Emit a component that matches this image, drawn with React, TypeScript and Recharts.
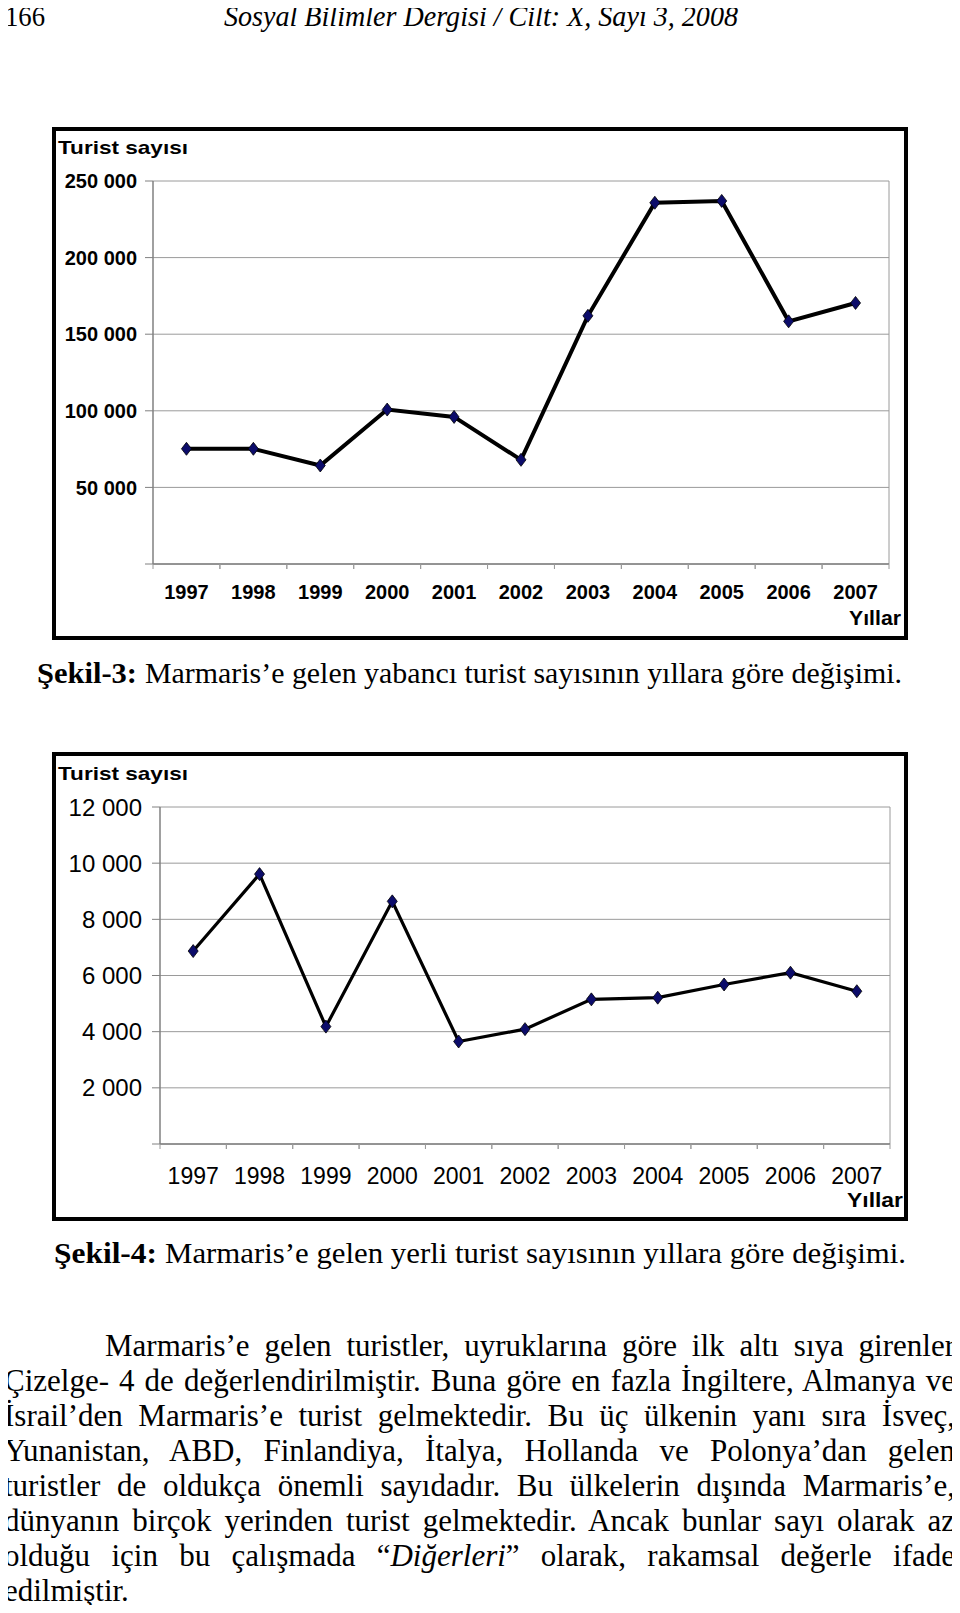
import React from 'react';
import { LineChart, Line, XAxis, YAxis, CartesianGrid } from 'recharts';

const years = ['1997', '1998', '1999', '2000', '2001', '2002', '2003', '2004', '2005', '2006', '2007'];
const foreignTourists = [75200, 75200, 64300, 100800, 96000, 68000, 162000, 235800, 237000, 158400, 170400];
const domesticTourists = [6870, 9610, 4180, 8640, 3650, 4090, 5150, 5210, 5680, 6100, 5440];
const foreignTicks = [0, 50000, 100000, 150000, 200000, 250000];
const domesticTicks = [0, 2000, 4000, 6000, 8000, 10000, 12000];

const paragraphLines = [
  'Marmaris’e gelen turistler, uyruklarına göre ilk altı sıya girenler',
  'Çizelge- 4 de değerlendirilmiştir. Buna göre en fazla İngiltere, Almanya ve',
  'İsrail’den Marmaris’e turist gelmektedir. Bu üç ülkenin yanı sıra İsveç,',
  'Yunanistan, ABD, Finlandiya, İtalya, Hollanda ve Polonya’dan gelen',
  'turistler de oldukça önemli sayıdadır. Bu ülkelerin dışında Marmaris’e,',
  'dünyanın birçok yerinden turist gelmektedir. Ancak bunlar sayı olarak az',
];

const SANS = '"Liberation Sans", Arial, sans-serif';
const SERIF = '"Liberation Serif", "Times New Roman", serif';
const GRID = '#9a9a9a';
const XH = 40;

const fmt = (n: number) => (n === 0 ? '' : String(n).replace(/\B(?=(\d{3})+(?!\d))/g, ' '));

const Diamond = (props: any) => {
  const { cx, cy, index } = props;
  if (cx == null || cy == null) return null;
  return (
    <polygon
      key={index}
      points={`${cx},${cy - 6.5} ${cx + 5},${cy} ${cx},${cy + 6.5} ${cx - 5},${cy}`}
      fill="#0c0c6a"
      stroke="#000"
      strokeWidth={0.8}
    />
  );
};

function TouristChart({ values, ticks, top, height, plot, yFont, xFont, yMargin, xGap, strokeWidth }: any) {
  const data = years.map((year, i) => ({ year, value: values[i] }));
  const margin = {
    top: plot.top - top,
    left: 0,
    right: 960 - plot.right,
    bottom: top + height - plot.bottom - XH,
  };
  const bw = (plot.right - plot.left) / years.length;
  const axisY = plot.bottom - top;

  const XTick = (p: any) => {
    const { x, payload } = p;
    return (
      <g>
        <line x1={x - bw / 2} x2={x - bw / 2} y1={axisY} y2={axisY + 5} stroke={GRID} />
        <line x1={x + bw / 2} x2={x + bw / 2} y1={axisY} y2={axisY + 5} stroke={GRID} />
        <text x={x} y={axisY + xGap} dy="0.71em" textAnchor="middle" fill="#000" style={{ fontFamily: SANS, ...xFont }}>
          {payload.value}
        </text>
      </g>
    );
  };

  return (
    <div style={{ position: 'absolute', left: 0, top, width: 960, height }}>
      <LineChart width={960} height={height} data={data} margin={margin}>
        <CartesianGrid
          stroke={GRID}
          strokeWidth={1}
          verticalCoordinatesGenerator={(g: any) => [g.offset.left + g.offset.width]}
        />
        <XAxis
          dataKey="year"
          scale="band"
          height={XH}
          axisLine={{ stroke: '#808080', strokeWidth: 1.5 }}
          tickLine={false}
          tick={<XTick />}
          interval={0}
        />
        <YAxis
          width={plot.left}
          domain={[ticks[0], ticks[ticks.length - 1]]}
          ticks={ticks}
          interval={0}
          tickFormatter={fmt}
          axisLine={{ stroke: '#808080', strokeWidth: 1.5 }}
          tickLine={{ stroke: '#808080' }}
          tickSize={8}
          tickMargin={yMargin}
          tick={{ fill: '#000', fontFamily: SANS, ...yFont }}
        />
        <Line
          type="linear"
          dataKey="value"
          stroke="#000"
          strokeWidth={strokeWidth}
          dot={<Diamond />}
          isAnimationActive={false}
        />
      </LineChart>
    </div>
  );
}

const frame = (left: number, top: number, right: number, bottom: number) => (
  <div
    style={{
      position: 'absolute',
      left,
      top,
      width: right - left,
      height: bottom - top,
      border: '4px solid #000',
      boxSizing: 'border-box',
      pointerEvents: 'none',
    }}
  />
);

const lineStyle: React.CSSProperties = {
  height: 35,
  lineHeight: '35px',
  textAlign: 'justify',
  textAlignLast: 'justify' as any,
  whiteSpace: 'normal',
};

export default function App() {
  return (
    <div style={{ position: 'relative', width: 960, height: 1613, margin: -8, overflow: 'hidden', background: '#fff' }}>
      {frame(52, 127, 908, 640)}
      <TouristChart
        values={foreignTourists}
        ticks={foreignTicks}
        top={127}
        height={513}
        plot={{ left: 153, top: 181, right: 889, bottom: 564 }}
        yFont={{ fontSize: 20, fontWeight: 700 }}
        xFont={{ fontSize: 20, fontWeight: 700 }}
        yMargin={8}
        xGap={21}
        strokeWidth={4}
      />
      {frame(52, 752, 908, 1221)}
      <TouristChart
        values={domesticTourists}
        ticks={domesticTicks}
        top={752}
        height={469}
        plot={{ left: 160, top: 807, right: 890, bottom: 1144 }}
        yFont={{ fontSize: 24, fontWeight: 400 }}
        xFont={{ fontSize: 23, fontWeight: 400 }}
        yMargin={10}
        xGap={24}
        strokeWidth={3.2}
      />

      <svg width={960} height={1613} style={{ position: 'absolute', left: 0, top: 0, pointerEvents: 'none' }}>
        <g style={{ fontFamily: SERIF }} fill="#000">
          <text x={5} y={26} fontSize={29} textLength={40} lengthAdjust="spacingAndGlyphs">166</text>
          <text x={224} y={26} fontSize={29} fontStyle="italic" textLength={514} lengthAdjust="spacingAndGlyphs">
            Sosyal Bilimler Dergisi / Cilt: X, Sayı 3, 2008
          </text>
          <text x={37} y={683} fontSize={29} fontWeight={700} textLength={100} lengthAdjust="spacingAndGlyphs">Şekil-3:</text>
          <text x={145} y={683} fontSize={29} textLength={757} lengthAdjust="spacingAndGlyphs">
            Marmaris’e gelen yabancı turist sayısının yıllara göre değişimi.
          </text>
          <text x={54} y={1263} fontSize={29} fontWeight={700} textLength={103} lengthAdjust="spacingAndGlyphs">Şekil-4:</text>
          <text x={165} y={1263} fontSize={29} textLength={741} lengthAdjust="spacingAndGlyphs">
            Marmaris’e gelen yerli turist sayısının yıllara göre değişimi.
          </text>
        </g>
        <g style={{ fontFamily: SANS }} fill="#000" fontWeight={700}>
          <text x={58} y={154} fontSize={19} textLength={130} lengthAdjust="spacingAndGlyphs">Turist sayısı</text>
          <text x={849} y={625} fontSize={20} textLength={52} lengthAdjust="spacingAndGlyphs">Yıllar</text>
          <text x={58} y={780} fontSize={19} textLength={130} lengthAdjust="spacingAndGlyphs">Turist sayısı</text>
          <text x={847} y={1207} fontSize={20} textLength={56} lengthAdjust="spacingAndGlyphs">Yıllar</text>
        </g>
      </svg>

      <div style={{ position: 'absolute', left: 4, top: 1328, width: 951, fontFamily: SERIF, fontSize: 31, color: '#000' }}>
        <div style={{ ...lineStyle, paddingLeft: 101 }}>{paragraphLines[0]}</div>
        {paragraphLines.slice(1).map((t, i) => (
          <div key={i} style={lineStyle}>{t}</div>
        ))}
        <div style={lineStyle}>
          olduğu için bu çalışmada “<i>Diğerleri</i>” olarak, rakamsal değerle ifade
        </div>
        <div style={{ ...lineStyle, textAlignLast: 'left' as any }}>edilmiştir.</div>
      </div>
    </div>
  );
}
